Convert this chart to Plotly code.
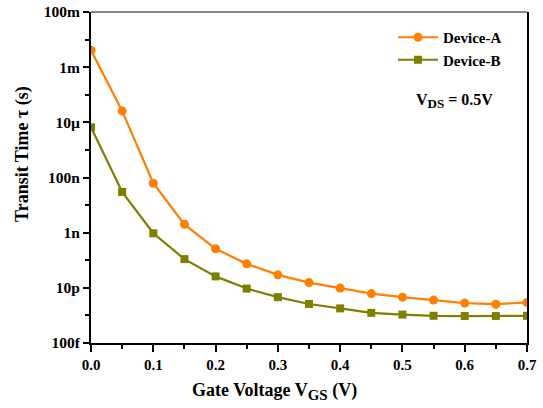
import plotly.graph_objects as go

vgs = [0.0, 0.05, 0.1, 0.15, 0.2, 0.25, 0.3, 0.35, 0.4, 0.45, 0.5, 0.55, 0.6, 0.65, 0.7]
device_a = [4.1e-3, 2.6e-5, 6.2e-8, 2.0e-9, 2.6e-10, 7.4e-11, 2.95e-11, 1.55e-11,
            9.8e-12, 6.2e-12, 4.6e-12, 3.6e-12, 2.8e-12, 2.55e-12, 2.95e-12]
device_b = [6.6e-6, 3.0e-8, 9.5e-10, 1.1e-10, 2.6e-11, 9.4e-12, 4.6e-12, 2.6e-12,
            1.8e-12, 1.24e-12, 1.07e-12, 0.97e-12, 0.95e-12, 0.95e-12, 0.97e-12]

y_tickvals = [1e-13, 1e-11, 1e-9, 1e-7, 1e-5, 1e-3, 1e-1]
y_ticktext = ["100f", "10p", "1n", "100n", "10µ", "1m", "100m"]
y_minorvals = [1e-12, 1e-10, 1e-8, 1e-6, 1e-4, 1e-2]
x_tickvals = [0.0, 0.1, 0.2, 0.3, 0.4, 0.5, 0.6, 0.7]
x_ticktext = ["0.0", "0.1", "0.2", "0.3", "0.4", "0.5", "0.6", "0.7"]
x_minorvals = [0.05, 0.15, 0.25, 0.35, 0.45, 0.55, 0.65]

FONT = "Liberation Serif"
orange = "#FF7F00"
olive = "#7F7F00"

L, R, T, B = 91, 16, 12, 65
W, H = 543, 408
PW, PH = W - L - R, H - T - B


def px_x(p):
    return (p - L) / PW


def px_y(p):
    return (H - B - p) / PH


fig = go.Figure()
fig.add_trace(go.Scatter(x=vgs, y=device_a, mode="lines+markers", name="<b>Device-A</b>",
                         line=dict(color=orange, width=2.2),
                         marker=dict(symbol="circle", size=9, color=orange)))
fig.add_trace(go.Scatter(x=vgs, y=device_b, mode="lines+markers", name="<b>Device-B</b>",
                         line=dict(color=olive, width=2.2),
                         marker=dict(symbol="square", size=8, color=olive)))

fig.update_layout(
    width=W, height=H,
    margin=dict(l=L, r=R, t=T, b=B),
    paper_bgcolor="white", plot_bgcolor="white",
    font=dict(family=FONT, color="black"),
    showlegend=True,
    legend=dict(x=px_x(393), y=px_y(21), xanchor="left", yanchor="top",
                bgcolor="rgba(0,0,0,0)", font=dict(size=15, family=FONT, color="black"),
                itemwidth=40, tracegroupgap=0),
    xaxis=dict(range=[0, 0.7], tickvals=x_tickvals, ticktext=["<b>%s</b>" % t for t in x_ticktext],
               ticks="outside", ticklen=7, tickwidth=1.5, tickcolor="black",
               showline=True, linecolor="black", linewidth=2, mirror=False,
               showgrid=False, zeroline=False, automargin=False,
               tickfont=dict(size=15, family=FONT),
               minor=dict(tickvals=x_minorvals, ticks="outside", ticklen=4, tickwidth=1.5,
                          tickcolor="black")),
    yaxis=dict(type="log", range=[-13, -1], tickvals=y_tickvals,
               ticktext=["<b>%s</b>" % t for t in y_ticktext],
               ticks="outside", ticklen=6, tickwidth=1.5, tickcolor="black",
               showline=True, linecolor="black", linewidth=2, mirror=True,
               showgrid=False, zeroline=False, automargin=False,
               tickfont=dict(size=15.5, family=FONT),
               minor=dict(tickvals=y_minorvals, ticks="outside", ticklen=4, tickwidth=1.5,
                          tickcolor="black")),
    shapes=[dict(type="line", xref="paper", yref="paper", x0=0, x1=1, y0=1, y1=1,
                 line=dict(color="#888888", width=2))],
    annotations=[
        dict(xref="paper", yref="paper", x=px_x(454), y=px_y(101), xanchor="center", yanchor="middle",
             text="<b>V<sub><span style='font-size:13px'>DS</span></sub> = 0.5V</b>", showarrow=False,
             font=dict(size=16, family=FONT, color="black")),
        dict(xref="paper", yref="paper", x=px_x(274), y=px_y(391), xanchor="center", yanchor="middle",
             text="<b>Gate Voltage V<sub><span style='font-size:15px'>GS</span></sub> (V)</b>",
             showarrow=False, font=dict(size=18, family=FONT, color="black")),
        dict(xref="paper", yref="paper", x=px_x(22), y=px_y(154), xanchor="center", yanchor="middle",
             text="<b>Transit Time τ (s)</b>", textangle=-90,
             showarrow=False, font=dict(size=18, family=FONT, color="black")),
    ],
)

fig.write_html("out.html")
